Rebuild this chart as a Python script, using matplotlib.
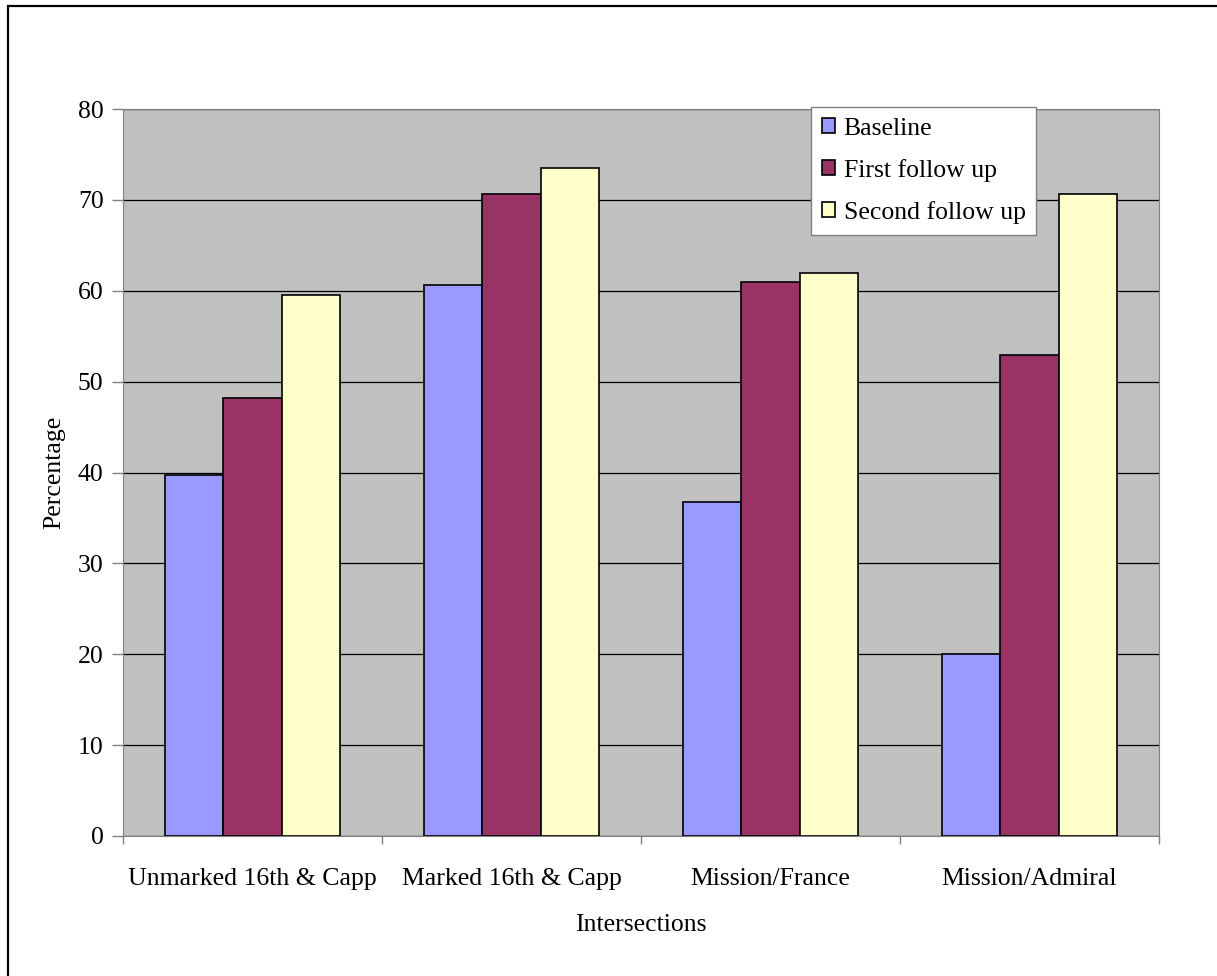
import matplotlib.pyplot as plt
import numpy as np
from matplotlib.patches import Rectangle

categories = ["Unmarked 16th & Capp", "Marked 16th & Capp", "Mission/France", "Mission/Admiral"]
series_names = ["Baseline", "First follow up", "Second follow up"]
baseline = [39.7, 60.6, 36.8, 20.0]
first_follow = [48.2, 70.7, 61.0, 52.9]
second_follow = [59.5, 73.5, 62.0, 70.7]
colors = ["#9999FF", "#993366", "#FFFFCC"]


def main():
    plt.rcParams["font.family"] = ["Liberation Serif", "DejaVu Serif"]
    fs = 18.5

    fig = plt.figure(figsize=(12.17, 9.76), dpi=100)
    ax = fig.add_axes([123 / 1217, 1 - 836 / 976, (1159 - 123) / 1217, (836 - 109) / 976])
    ax.set_facecolor("#C0C0C0")

    # outer chart frame (only left/top edges are inside the image)
    fig.patches.append(Rectangle((8 / 1217, -0.1), 1.2, 1 - 6 / 976 + 0.1,
                                 transform=fig.transFigure, fill=False,
                                 edgecolor="black", linewidth=1.6, zorder=0))

    x = np.arange(len(categories))
    width = 0.224
    for i, (vals, name) in enumerate(zip([baseline, first_follow, second_follow], series_names)):
        ax.bar(x + (i - 1) * width, vals, width, color=colors[i], edgecolor="black",
               linewidth=1.2, label=name, zorder=3)

    ax.set_xlim(-0.5, len(categories) - 0.5)
    ax.set_ylim(0, 80)
    ax.set_yticks(range(0, 81, 10))
    ax.yaxis.grid(True, color="black", linewidth=0.9, zorder=1)
    ax.set_axisbelow(True)

    ax.set_xticks(np.arange(-0.5, len(categories), 1.0))
    ax.set_xticklabels([])
    ax.set_xticks(x, minor=True)
    ax.set_xticklabels(categories, minor=True)
    ax.tick_params(axis="x", which="major", direction="out", length=6, color="#808080", width=1)
    ax.tick_params(axis="x", which="minor", length=0, pad=23, labelsize=fs)
    ax.tick_params(axis="y", direction="out", length=8, color="#808080", width=1, labelsize=fs, pad=6)

    for side in ["top", "right", "left", "bottom"]:
        ax.spines[side].set_color("#808080")

    ax.set_xlabel("Intersections", fontsize=fs, labelpad=17)
    ax.set_ylabel("Percentage", fontsize=fs, labelpad=9)

    leg = ax.legend(loc="upper left", bbox_to_anchor=(811 / 1217, 1 - 107 / 976),
                    bbox_transform=fig.transFigure, fontsize=fs, frameon=True,
                    fancybox=False, edgecolor="#808080", framealpha=1,
                    handlelength=0.5, handleheight=0.5, handletextpad=0.35,
                    borderpad=0.42, labelspacing=0.74, borderaxespad=0)
    leg.get_frame().set_linewidth(1)
    leg.set_zorder(5)

    fig.savefig("out.png", dpi=100)


if __name__ == "__main__":
    main()
